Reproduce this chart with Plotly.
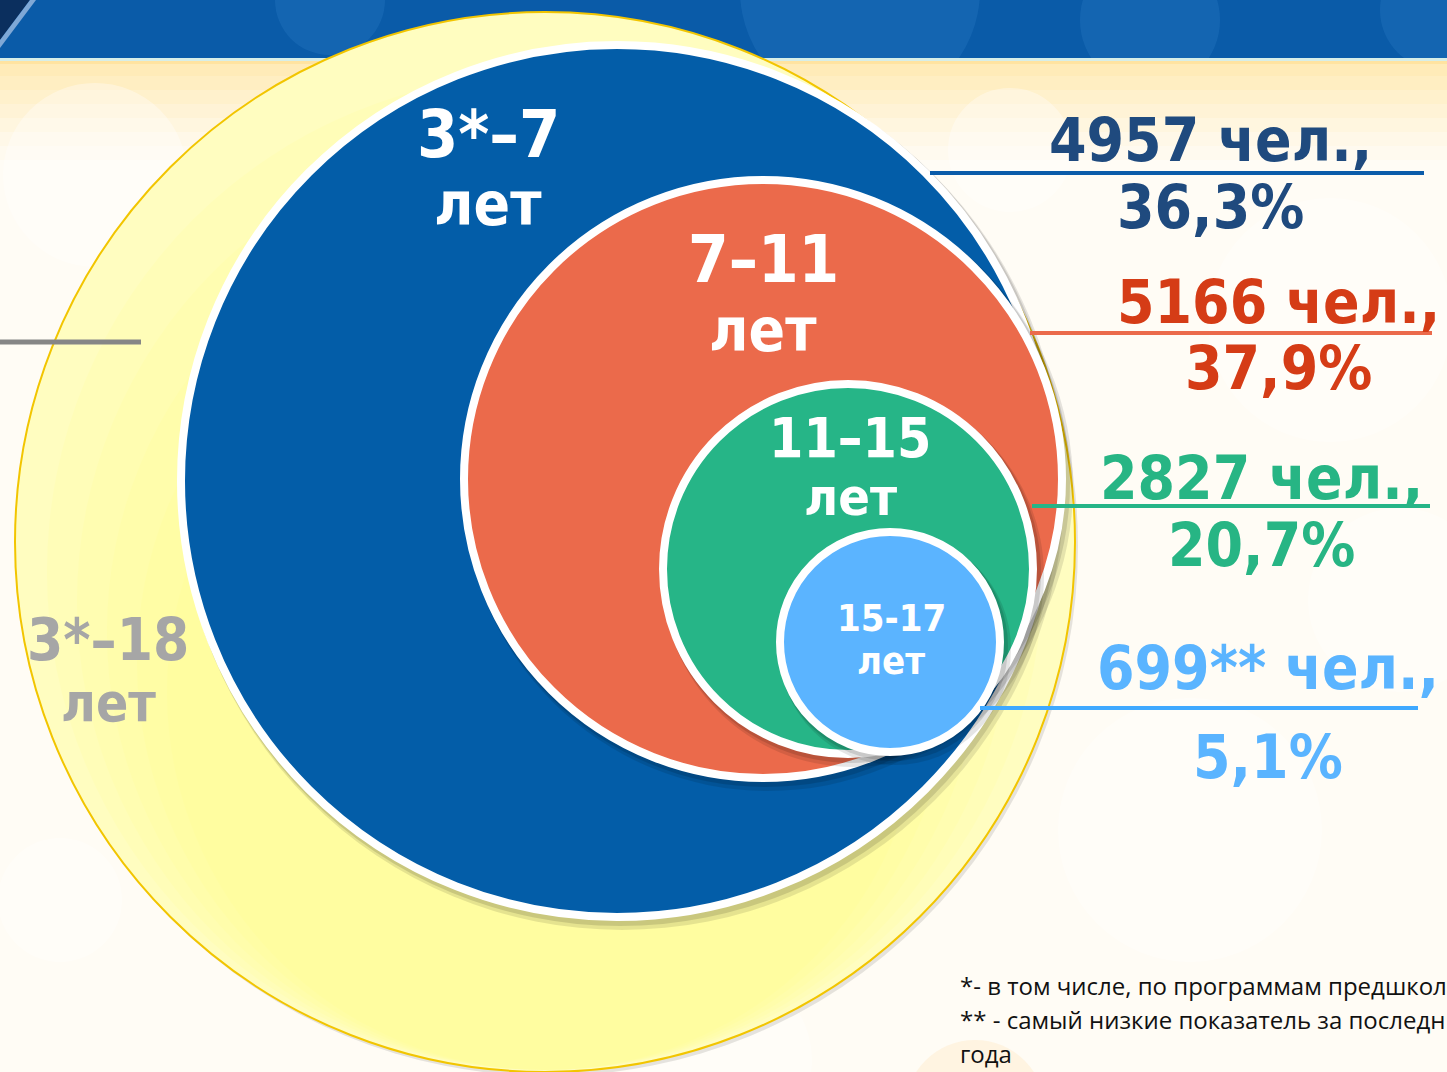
import plotly.graph_objects as go

# ---------------- data ----------------
age_groups = ["3*–7", "7–11", "11–15", "15-17"]
group_unit = "лет"
people = ["4957", "5166", "2827", "699**"]
people_unit = "чел.,"
shares = ["36,3%", "37,9%", "20,7%", "5,1%"]
total_group = "3*–18"
# footnotes as far as they are visible in the original slide
footnotes = [
    "*- в том числе, по программам предшкол",
    "** - самый низкие показатель за последн",
    "года",
]

# ---------------- layout / style ----------------
W, H = 1447, 1072
FONT_C = "DejaVu Sans Condensed, DejaVu Sans, sans-serif"

# circles: (cx, cy, r, fill)
circle_geo = [
    (617, 481, 436, "#035DA8"),
    (763, 479, 299, "#EB6A4B"),
    (848, 569, 185, "#26B587"),
    (890, 642, 110, "#5BB4FF"),
]
label_pos = [  # (x, y_first_line, y_second_line, size1, size2)
    (488, 134, 204, 66, 60),
    (763, 259, 330, 65, 60),
    (850, 438, 497, 55, 52),
    (891, 618, 661, 38, 38),
]
value_style = [  # (x, y1, y2, text colour, line colour, line x0, line x1, line y)
    (1210, 140, 207, "#1F4A7E", "#0B5CAA", 930, 1424, 173),
    (1278, 302, 368, "#D53C16", "#EB6A4B", 1030, 1432, 333),
    (1261, 478, 545, "#27B584", "#26B587", 1032, 1430, 506),
    (1268, 668, 757, "#5AB4FF", "#3FA9FF", 980, 1418, 708),
]

shapes = []

def rect(x0, y0, x1, y1, fill, opacity=1.0):
    shapes.append(dict(type="rect", xref="x", yref="y", x0=x0, y0=y0, x1=x1, y1=y1,
                       fillcolor=fill, line=dict(width=0), opacity=opacity, layer="below"))

def circ(cx, cy, r, fill, line_color=None, line_w=0, opacity=1.0, layer="below"):
    shapes.append(dict(type="circle", xref="x", yref="y", x0=cx - r, y0=cy - r, x1=cx + r, y1=cy + r,
                       fillcolor=fill, opacity=opacity, layer=layer,
                       line=dict(width=line_w, color=line_color or fill)))

# top band with soft lighter bubbles
rect(0, 0, W, 60, "#0A5BA8")
for (bx, by, br) in [(330, 0, 55), (860, -10, 120), (1150, 20, 70), (1440, 10, 60)]:
    circ(bx, by, br, "#2E7FC6", opacity=0.30)
# cream body drawn after, so bubbles stay inside band
rect(0, 60, W, H, "#FFFCF5")
for i, c in enumerate(["#FFEBB8", "#FFEEC2", "#FFF1CC", "#FFF3D6", "#FFF6DF", "#FFF8E8", "#FFFAEF"]):
    rect(0, 62 + i * 14, W, 76 + i * 14, c)
rect(0, 58, W, 61, "#D7EEE8")
rect(0, 61, W, 64, "#FFE3A0")
# faint background bubbles
for (bx, by, br) in [(95, 175, 90), (1330, 320, 120), (1400, 600, 90), (1190, 830, 130),
                     (720, 1060, 90), (60, 900, 60), (1010, 150, 60)]:
    circ(bx, by, br, "#FFFFFF", line_color="#FFFFFF", line_w=4, opacity=0.35)
# subtle warm glow at the bottom edge
circ(975, 1110, 70, "#FFE6BC", opacity=0.35)
# dark corner ornament
shapes.append(dict(type="path", xref="x", yref="y", path="M0,0 L30,0 L0,40 Z",
                   fillcolor="#0B2F5E", line=dict(width=0), layer="below"))
shapes.append(dict(type="path", xref="x", yref="y", path="M30,0 L36,0 L0,48 L0,40 Z",
                   fillcolor="#7FA8D6", line=dict(width=0), layer="below"))

# big yellow circle (3*–18) with soft vertical tint
circ(548, 546, 530, "rgba(0,0,0,0.10)")
circ(545, 542, 530, "#FFFDC0", line_color="#F2C500", line_w=2)
for k, (dy, rr) in enumerate([(30, 498), (60, 468), (90, 438), (120, 408), (150, 378)]):
    circ(545, 542 + dy, rr, "#FFFF80", opacity=0.13)

# gray pointer for total group
shapes.append(dict(type="line", xref="x", yref="y", x0=0, x1=141, y0=342, y1=342,
                   line=dict(color="#868686", width=5), layer="below"))

# nested circles with shadows and white borders
for (cx, cy, r, col) in circle_geo:
    circ(cx + 5, cy + 7, r + 6, "rgba(0,0,0,0.10)")
    circ(cx + 3, cy + 4, r + 5, "rgba(0,0,0,0.12)")
    circ(cx, cy, r, col, line_color="#FFFFFF", line_w=8)

# pointer lines
for (x, y1, y2, tc, lc, lx0, lx1, ly) in value_style:
    shapes.append(dict(type="line", xref="x", yref="y", x0=lx0, x1=lx1, y0=ly, y1=ly,
                       line=dict(color=lc, width=4), layer="above"))

annotations = []

def ann(x, y, text, size, color, family=FONT_C, xanchor="center", bold=True):
    annotations.append(dict(x=x, y=y, xref="x", yref="y", text=f"<b>{text}</b>" if bold else text,
                            showarrow=False, xanchor=xanchor, yanchor="middle",
                            font=dict(family=family, size=size, color=color)))

for name, (x, y1, y2, s1, s2) in zip(age_groups, label_pos):
    ann(x, y1, name, s1, "#FFFFFF")
    ann(x, y2, group_unit, s2, "#FFFFFF")

ann(108, 640, total_group, 58, "#A6A6A6")
ann(108, 702, group_unit, 53, "#A6A6A6")

for p, s, (x, y1, y2, tc, lc, lx0, lx1, ly) in zip(people, shares, value_style):
    ann(x, y1, f"{p} {people_unit}", 60, tc)
    ann(x, y2, s, 60, tc)

for i, t in enumerate(footnotes):
    ann(958, 985 + i * 34, t, 24, "#111111", family="Open Sans, sans-serif", xanchor="left", bold=False)

fig = go.Figure()
fig.add_trace(go.Scatter(x=[0, W], y=[0, H], mode="markers", marker=dict(opacity=0), hoverinfo="skip",
                         showlegend=False))
fig.update_layout(
    width=W, height=H, margin=dict(l=0, r=0, t=0, b=0),
    paper_bgcolor="#FFFCF5", plot_bgcolor="#FFFCF5",
    xaxis=dict(range=[0, W], visible=False, fixedrange=True),
    yaxis=dict(range=[H, 0], visible=False, fixedrange=True),
    shapes=shapes, annotations=annotations, showlegend=False,
)
fig.write_html("out.html", include_plotlyjs=True, config={"displayModeBar": False},
               post_script="document.body.style.margin='0';document.body.style.overflow='hidden';")
